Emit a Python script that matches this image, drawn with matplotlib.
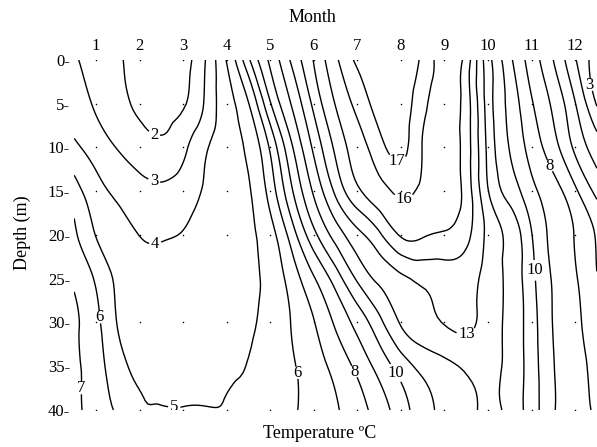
import numpy as np
import matplotlib
matplotlib.use('Agg')
import matplotlib.pyplot as plt
import matplotlib.tri as mtri

plt.rcParams['font.family'] = ['Liberation Serif', 'DejaVu Serif']

# grid: half-month columns, depth rows every 5 m
months = [0.5, 1, 1.5, 2, 2.5, 3, 3.5, 4, 4.5, 5, 5.5, 6, 6.5,
          7, 7.5, 8, 8.5, 9, 9.5, 10, 10.5, 11, 11.5, 12, 12.5]
depths = [0, 5, 10, 15, 20, 25, 30, 35, 40]

# temperature (deg C) along each depth row
t_00m = [3.1, 2.63, 2.12, 1.8, 1.7, 1.65, 2.95, 5.05, 7.8, 10.2, 12.2, 14.05, 15.8,
         17.2, 17.8, 18.0, 16.75, 15.6, 14.6, 11.4, 9.25, 7.55, 6.0, 4.1, 2.4]
t_05m = [3.5, 2.87, 2.3, 1.85, 1.75, 1.9, 3.1, 4.6, 5.95, 8.9, 11.1, 13.25, 15.05,
         16.3, 17.5, 17.6, 16.3, 15.5, 14.5, 11.55, 9.7, 8.1, 6.8, 5.05, 2.9]
t_10m = [4.2, 3.56, 2.95, 2.5, 2.2, 2.75, 3.85, 4.5, 5.2, 7.15, 9.9, 12.2, 14.2,
         15.55, 16.6, 17.3, 15.95, 15.4, 14.5, 11.75, 9.95, 8.6, 7.4, 5.8, 4.5]
t_15m = [5.5, 4.38, 3.75, 3.3, 3.2, 3.5, 4.1, 4.5, 4.9, 6.4, 8.9, 11.15, 13.2,
         14.8, 15.65, 16.15, 15.8, 15.4, 14.6, 12.05, 10.6, 9.3, 8.4, 7.2, 5.7]
t_20m = [6.2, 4.97, 4.5, 3.98, 3.9, 4.05, 4.35, 4.6, 4.85, 5.6, 7.5, 9.7, 11.4,
         12.7, 13.8, 15.1, 15.1, 14.9, 14.3, 12.75, 11.7, 10.05, 8.75, 7.95, 6.9]
t_25m = [6.9, 5.85, 4.85, 4.6, 4.5, 4.5, 4.5, 4.6, 4.8, 5.3, 6.45, 7.9, 9.45,
         11.15, 12.2, 12.8, 13.2, 13.4, 13.35, 12.65, 11.7, 10.3, 8.9, 8.1, 7.05]
t_30m = [7.1, 6.3, 4.95, 4.7, 4.6, 4.6, 4.6, 4.7, 4.85, 5.35, 6.05, 6.95, 8.15,
         9.35, 10.7, 12.1, 12.7, 13.05, 13.2, 12.6, 11.7, 10.45, 8.95, 8.2, 7.4]
t_35m = [7.2, 6.45, 5.35, 4.85, 4.75, 4.75, 4.8, 4.9, 5.03, 5.45, 5.9, 6.55, 7.3,
         8.25, 9.35, 10.45, 11.3, 11.75, 12.15, 12.3, 11.7, 10.5, 9.05, 8.35, 7.6]
t_40m = [7.3, 6.5, 5.85, 5.08, 5.04, 5.03, 5.03, 5.04, 5.3, 5.6, 5.9, 6.4, 6.9,
         7.6, 8.45, 9.55, 10.6, 11.25, 11.7, 12.2, 11.7, 10.5, 9.1, 8.4, 7.8]

temp = np.array([t_00m, t_05m, t_10m, t_15m, t_20m, t_25m, t_30m, t_35m, t_40m])
levels = np.arange(2, 18)

# sampling stations shown as dots
station_months = list(range(1, 13))
station_depths = [0, 5, 10, 15, 20, 30, 40]

# where the isotherm labels sit (month, depth)
label_pos = [(2.35, 8.3), (2.35, 13.5), (2.35, 20.6), (2.8, 39.5),
             (1.09, 29.4), (0.68, 37.5), (5.68, 35.7), (6.9, 35.7),
             (7.9, 35.7), (9.54, 32.6), (8.1, 16.8), (7.93, 11.4),
             (11.45, 12.0), (11.2, 24.0), (12.3, 2.9)]

# smooth isotherms: cubic refinement of the grid (depth scaled so cells are square)
M, D = np.meshgrid(months, depths)
nx, ny = len(months), len(depths)
tris = []
for j in range(ny - 1):
    for i in range(nx - 1):
        a = j * nx + i
        tris.append([a, a + 1, a + nx + 1])
        tris.append([a, a + nx + 1, a + nx])
tri = mtri.Triangulation(M.ravel(), D.ravel() / 10.0, tris)
tri_fine, t_fine = mtri.UniformTriRefiner(tri).refine_field(temp.ravel(), subdiv=3)
tri_plot = mtri.Triangulation(tri_fine.x, tri_fine.y * 10.0, tri_fine.triangles)

fig = plt.figure(figsize=(5.97, 4.47), dpi=100)
ax = fig.add_axes([0.1243, 0.0828, 0.8755, 0.783])

cs = ax.tricontour(tri_plot, t_fine, levels=levels, colors='black', linewidths=1.0)
labels = ax.clabel(cs, fmt='%d', fontsize=12, manual=label_pos, inline_spacing=2)
for t in labels:
    t.set_rotation(0)
    x, y = t.get_position()
    if x > 12.2:
        t.set_position((12.33, y))

mm, dd = np.meshgrid(station_months, station_depths)
ax.scatter(mm.ravel(), dd.ravel(), s=1.2, color='black', linewidths=0)

ax.set_xlim(0.5, 12.5)
ax.set_ylim(40, 0)
ax.xaxis.tick_top()
ax.set_xticks(station_months)
ax.set_xticklabels([str(m) for m in station_months])
ax.set_yticks(depths)
ax.set_yticklabels([f'{d}-' for d in depths])
ax.tick_params(axis='x', length=0, pad=4, labelsize=12)
ax.tick_params(axis='y', length=0, pad=3, labelsize=12)
for s in ax.spines.values():
    s.set_visible(False)

fig.text(312 / 597, 1 - 18 / 447, 'Month', ha='center', va='center', fontsize=13)
fig.text(22 / 597, 1 - 233 / 447, 'Depth (m)', ha='center', va='center',
         rotation=90, fontsize=13)
fig.text(320 / 597, 1 - 433 / 447, 'Temperature ºC', ha='center', va='center', fontsize=13)

fig.savefig('out.png', dpi=100)
